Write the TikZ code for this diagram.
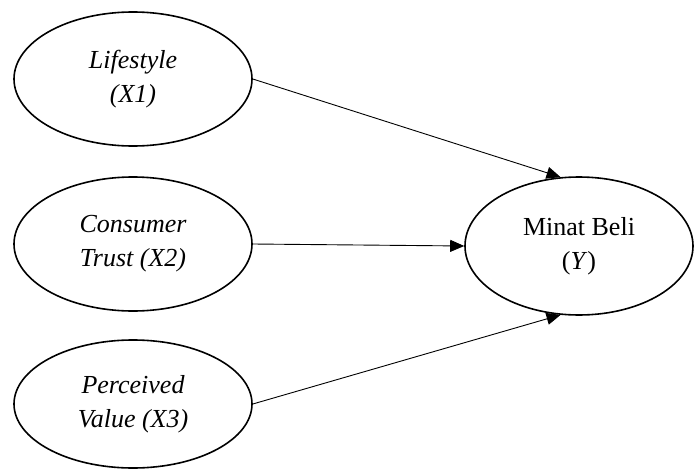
\documentclass[tikz,border=0pt]{standalone}
\usepackage{fontspec}
\setmainfont{Liberation Serif}
\usetikzlibrary{shapes.geometric,arrows.meta}
\begin{document}
\begin{tikzpicture}[x=1pt,y=-1pt,
  var/.style={draw,line width=1.6pt,ellipse,minimum width=#1,align=center,font=\fontsize{26}{34}\selectfont,inner sep=0pt},
  link/.style={line width=0.9pt,-{Triangle[length=14pt,width=12pt]}}]
\useasboundingbox (0,0) rectangle (694,471);
\node[var=238pt,minimum height=134pt] (x1) at (133,79) {\itshape Lifestyle\\\itshape (X1)};
\node[var=238pt,minimum height=134pt] (x2) at (133,244) {\itshape Consumer\\\itshape Trust (X2)};
\node[var=238pt,minimum height=128pt] (x3) at (133,404) {\itshape Perceived\\\itshape Value (X3)};
\node[var=228pt,minimum height=138pt] (y) at (579,246) {Minat Beli\\(\textit{Y})};
\draw[link] (x1.east) -- (y.105);
\draw[link] (x2.east) -- (y.west);
\draw[link] (x3.east) -- (y.255);
\end{tikzpicture}
\end{document}
